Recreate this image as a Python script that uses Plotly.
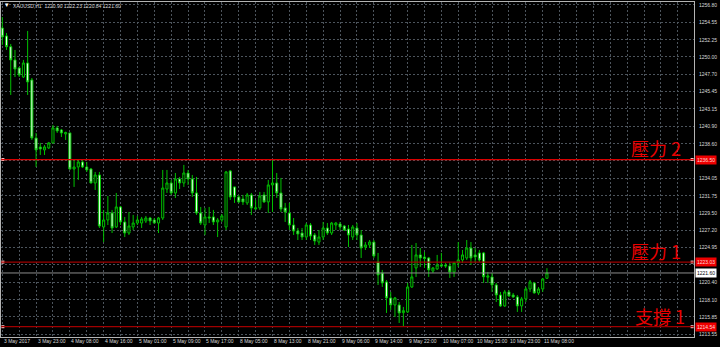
import plotly.graph_objects as go

# ---------------- data ----------------
opens = [1253.78, 1252.73, 1251.32, 1249.58, 1248.53, 1247.34, 1249.18, 1246.95, 1239.33, 1238.15,
         1237.76, 1238.02, 1238.68, 1240.65, 1240.38, 1239.86, 1239.99, 1235.26, 1235.52, 1236.18,
         1235.52, 1235.26, 1233.42, 1234.47, 1227.64, 1228.56, 1229.48, 1227.64, 1230.27, 1228.30,
         1226.85, 1227.64, 1228.16, 1228.16, 1228.43, 1228.82, 1228.56, 1228.16, 1228.82, 1232.63,
         1233.42, 1232.11, 1233.95, 1233.42, 1234.73, 1233.95, 1232.11, 1229.48, 1227.90, 1228.96,
         1228.96, 1228.30, 1228.56, 1227.64, 1235.00, 1232.90, 1231.58, 1231.32, 1230.80, 1231.85,
         1230.01, 1230.14, 1231.85, 1230.93, 1233.16, 1233.42, 1232.11, 1230.14, 1229.48, 1227.90,
         1227.11, 1226.85, 1226.32, 1227.90, 1226.59, 1225.66, 1226.32, 1227.51, 1226.85, 1227.90,
         1228.03, 1227.77, 1227.38, 1226.32, 1227.51, 1226.59, 1225.01, 1225.28, 1225.66, 1223.05,
         1221.60, 1220.42, 1218.32, 1217.40, 1217.40, 1216.39, 1216.48, 1219.76, 1222.26, 1223.97,
         1223.70, 1223.57, 1221.86, 1222.13, 1222.65, 1222.65, 1222.52, 1221.73, 1222.92, 1223.31,
         1223.57, 1224.88, 1223.97, 1224.23, 1224.23, 1221.04, 1221.08, 1220.03, 1218.71, 1217.27,
         1219.11, 1218.71, 1218.45, 1217.27, 1218.19, 1219.50, 1220.29, 1218.97, 1219.50, 1220.90]

closes = [1252.60, 1251.32, 1249.58, 1248.39, 1247.61, 1249.18, 1246.69, 1239.33, 1237.76, 1237.89,
          1238.15, 1238.68, 1240.65, 1240.25, 1239.99, 1240.04, 1235.26, 1235.52, 1236.18, 1235.52,
          1235.13, 1233.42, 1234.47, 1227.77, 1228.56, 1229.48, 1227.51, 1230.27, 1228.30, 1226.85,
          1227.77, 1228.16, 1228.56, 1228.69, 1228.82, 1228.43, 1228.16, 1228.82, 1232.76, 1233.42,
          1232.11, 1233.95, 1233.42, 1234.73, 1233.95, 1232.11, 1229.48, 1228.16, 1228.96, 1228.82,
          1228.30, 1228.56, 1229.09, 1234.87, 1231.58, 1231.58, 1230.93, 1230.93, 1231.85, 1230.14,
          1230.14, 1231.71, 1230.93, 1233.16, 1233.42, 1232.11, 1230.01, 1229.61, 1227.90, 1227.11,
          1226.72, 1226.32, 1227.90, 1226.45, 1225.80, 1226.32, 1227.51, 1226.85, 1228.16, 1228.16,
          1227.64, 1227.24, 1226.59, 1227.64, 1226.59, 1224.88, 1225.28, 1225.66, 1223.83, 1221.34,
          1220.29, 1218.32, 1217.40, 1218.32, 1216.35, 1216.65, 1219.76, 1221.08, 1223.97, 1223.57,
          1223.50, 1222.00, 1222.26, 1222.65, 1222.52, 1222.52, 1221.73, 1222.92, 1223.31, 1223.97,
          1224.88, 1223.57, 1223.70, 1223.31, 1221.10, 1221.21, 1220.03, 1218.71, 1217.27, 1219.11,
          1218.58, 1218.45, 1217.27, 1218.19, 1219.50, 1220.42, 1218.97, 1219.50, 1220.81, 1221.60]

highs = [1255.22, 1253.12, 1251.68, 1250.89, 1248.66, 1249.58, 1253.39, 1247.21, 1239.99, 1238.68,
         1238.41, 1238.81, 1241.04, 1240.91, 1240.52, 1240.16, 1240.04, 1236.44, 1236.44, 1236.44,
         1236.18, 1235.39, 1234.87, 1234.87, 1229.88, 1231.71, 1229.88, 1232.11, 1230.40, 1228.96,
         1229.61, 1229.22, 1229.09, 1228.96, 1229.09, 1228.96, 1228.82, 1228.96, 1235.13, 1235.13,
         1233.82, 1234.73, 1234.21, 1235.79, 1235.13, 1234.47, 1234.21, 1230.27, 1230.14, 1230.27,
         1229.88, 1228.82, 1229.35, 1235.00, 1235.13, 1232.94, 1231.85, 1231.85, 1232.11, 1232.11,
         1231.19, 1232.24, 1232.24, 1233.82, 1236.44, 1234.73, 1234.08, 1230.80, 1230.80, 1228.82,
         1227.51, 1227.51, 1228.16, 1228.16, 1226.85, 1227.24, 1228.30, 1228.16, 1228.30, 1228.30,
         1228.30, 1227.90, 1227.90, 1227.90, 1228.16, 1227.24, 1225.66, 1225.93, 1225.93, 1224.23,
         1222.00, 1220.68, 1219.11, 1218.45, 1217.79, 1217.14, 1220.29, 1225.28, 1225.54, 1224.88,
         1224.36, 1223.70, 1222.39, 1223.97, 1224.23, 1222.92, 1223.05, 1223.05, 1225.66, 1224.62,
         1225.93, 1225.66, 1224.88, 1224.62, 1224.36, 1221.73, 1221.60, 1220.29, 1219.11, 1219.37,
         1219.37, 1218.97, 1218.71, 1218.45, 1219.76, 1220.68, 1220.42, 1219.76, 1220.95, 1222.23]

lows = [1251.55, 1250.89, 1244.98, 1247.34, 1247.34, 1247.21, 1244.98, 1239.07, 1235.52, 1237.10,
        1237.10, 1237.89, 1238.68, 1239.99, 1239.46, 1239.07, 1235.13, 1232.90, 1233.82, 1235.39,
        1234.87, 1233.36, 1232.50, 1227.51, 1225.66, 1227.90, 1226.85, 1227.51, 1227.90, 1226.32,
        1226.59, 1227.24, 1227.90, 1227.51, 1228.16, 1227.90, 1228.10, 1226.85, 1228.56, 1232.11,
        1231.85, 1231.45, 1232.63, 1232.90, 1233.16, 1231.58, 1229.22, 1227.90, 1226.59, 1228.16,
        1227.90, 1226.32, 1228.30, 1227.24, 1231.19, 1230.80, 1230.80, 1230.53, 1230.53, 1229.22,
        1229.88, 1229.88, 1230.80, 1229.48, 1229.61, 1231.45, 1229.61, 1228.30, 1227.25, 1226.59,
        1225.93, 1225.93, 1225.93, 1225.93, 1225.28, 1225.28, 1225.93, 1226.59, 1226.59, 1227.24,
        1227.24, 1227.11, 1225.01, 1225.93, 1225.93, 1223.57, 1224.62, 1224.88, 1223.57, 1220.03,
        1219.76, 1216.35, 1216.74, 1215.82, 1215.03, 1214.54, 1216.35, 1219.63, 1221.08, 1222.39,
        1222.26, 1221.08, 1221.60, 1222.00, 1222.39, 1222.26, 1220.95, 1221.08, 1222.39, 1222.92,
        1223.31, 1222.65, 1222.92, 1223.05, 1220.29, 1220.29, 1219.11, 1217.79, 1217.14, 1217.14,
        1218.45, 1218.32, 1216.48, 1216.48, 1217.79, 1219.11, 1218.90, 1218.71, 1219.11, 1220.84]

time_labels = ["3 May 2017", "3 May 23:00", "4 May 08:00", "4 May 16:00", "5 May 01:00",
               "5 May 09:00", "5 May 17:00", "8 May 05:00", "8 May 13:00", "8 May 21:00",
               "9 May 06:00", "9 May 14:00", "9 May 22:00", "10 May 07:00", "10 May 15:00",
               "10 May 23:00", "11 May 08:00"]
label_step = 8

price_grid = [1256.80, 1254.55, 1252.25, 1250.00, 1247.70, 1245.45, 1243.15, 1240.90, 1238.60,
              1236.35, 1234.05, 1231.75, 1229.50, 1227.20, 1224.95, 1222.70, 1220.40, 1218.10,
              1215.85, 1213.55]
hidden_grid_labels = [1236.35, 1222.70]

level_values = [1236.50, 1223.03, 1214.54]
level_labels = ["1236.50", "1223.03", "1214.54"]
level_names = ["壓力 2", "壓力 1", "支撐 1"]
current_price = 1221.60
header_text = "XAUUSD,H1  1220.90 1222.23 1220.84 1221.60"

# ---------------- layout geometry ----------------
W, H = 720, 347
PL, PR, PT, PB = 1, 694, 2, 337
n_bars = len(opens)
bar_px = 4.222
x_lo = -1.3 / bar_px
x_hi = x_lo + (PR - PL) / bar_px
y_hi = 1257.19
y_lo = 1213.19


def xp(px):
    return (px - PL) / (PR - PL)


def yp(py):
    return (PB - py) / (PB - PT)


idx = list(range(n_bars))
fig = go.Figure()

GREEN = "#00c000"
fig.add_trace(go.Candlestick(
    x=idx, open=opens, high=highs, low=lows, close=closes,
    increasing=dict(line=dict(color=GREEN, width=1), fillcolor="#000000"),
    decreasing=dict(line=dict(color=GREEN, width=1), fillcolor="#eaffea"),
    whiskerwidth=0, hoverinfo="skip", showlegend=False,
))

shapes = []
level_line_colors = ["#d80000", "#a00000", "#a00000"]
for v, c in zip(level_values, level_line_colors):
    shapes.append(dict(type="line", xref="paper", x0=0, x1=1, yref="y", y0=v, y1=v,
                       line=dict(color=c, width=1.3), layer="above"))
shapes.append(dict(type="line", xref="paper", x0=0, x1=1, yref="y", y0=current_price,
                   y1=current_price, line=dict(color="#8c8c8c", width=1), layer="above"))

# small end markers on level lines
fig.add_trace(go.Scatter(
    x=[x_lo + 0.45] * 3 + [x_hi - 0.45] * 3, y=level_values * 2, mode="markers",
    marker=dict(symbol="square", size=3, color="#ffc8c8", line=dict(width=0)),
    hoverinfo="skip", showlegend=False, cliponaxis=False))

annotations = []
LBL = dict(family="Liberation Sans, Arial, sans-serif", size=5, color="#d8d8d8")
# bottom time labels (left aligned at the grid line, MT4 style)
for i, lab in enumerate(time_labels):
    annotations.append(dict(x=i * label_step, xref="x", y=yp(341), yref="paper",
                            text=lab, showarrow=False, xanchor="left", yanchor="middle",
                            font=LBL, xshift=-0.5))

# right price-scale labels
for v in price_grid:
    if v in hidden_grid_labels:
        continue
    annotations.append(dict(x=1, xref="paper", y=v, yref="y", text=f"{v:.2f}",
                            showarrow=False, xanchor="left", yanchor="middle",
                            xshift=3, font=LBL))

# level price boxes
for v, t in zip(level_values, level_labels):
    annotations.append(dict(x=1, xref="paper", y=v, yref="y", text=t, showarrow=False,
                            xanchor="left", yanchor="middle", xshift=1,
                            bgcolor="#ee0000", borderpad=1,
                            font=dict(family="Liberation Sans, Arial, sans-serif", size=5,
                                      color="#ffd8d8")))
annotations.append(dict(x=1, xref="paper", y=current_price, yref="y", text=f"{current_price:.2f}",
                        showarrow=False, xanchor="left", yanchor="middle", xshift=1,
                        bgcolor="#ffffff", borderpad=1,
                        font=dict(family="Liberation Sans, Arial, sans-serif", size=5,
                                  color="#000000")))

# Chinese level names
name_pos = [(656, 147.5), (656, 251), (660, 316)]
for (cx, cy), name in zip(name_pos, level_names):
    annotations.append(dict(x=xp(cx), xref="paper", y=yp(cy), yref="paper", text=name,
                            showarrow=False, xanchor="center", yanchor="middle",
                            font=dict(family="Noto Sans CJK TC", size=18, color="#e80000")))

# header
annotations.append(dict(x=xp(3), xref="paper", y=yp(5), yref="paper", text="▾",
                        showarrow=False, xanchor="left", yanchor="middle",
                        font=dict(family="DejaVu Sans", size=7, color="#ffffff")))
annotations.append(dict(x=xp(10.5), xref="paper", y=yp(5.5), yref="paper", text=header_text,
                        showarrow=False, xanchor="left", yanchor="middle", font=LBL))

GRID = "#4c545c"
fig.update_layout(
    width=W, height=H,
    margin=dict(l=PL, r=W - PR, t=PT, b=H - PB, pad=0),
    paper_bgcolor="#000000", plot_bgcolor="#000000",
    showlegend=False,
    shapes=shapes, annotations=annotations,
    xaxis=dict(range=[x_lo, x_hi], tickvals=list(range(0, int(x_hi) + 1, 4)),
               showticklabels=False, showgrid=True, gridcolor=GRID, griddash="2px,2px",
               gridwidth=1, zeroline=False, rangeslider=dict(visible=False),
               showline=True, linecolor="#b4b4b4", linewidth=1, mirror=True, ticks=""),
    yaxis=dict(range=[y_lo, y_hi], tickvals=price_grid, side="right", showticklabels=False,
               showgrid=True, gridcolor=GRID, griddash="2px,2px", gridwidth=1,
               zeroline=False, showline=True, linecolor="#b4b4b4", linewidth=1,
               mirror=True, ticks=""),
)

fig.write_html("out.html")
